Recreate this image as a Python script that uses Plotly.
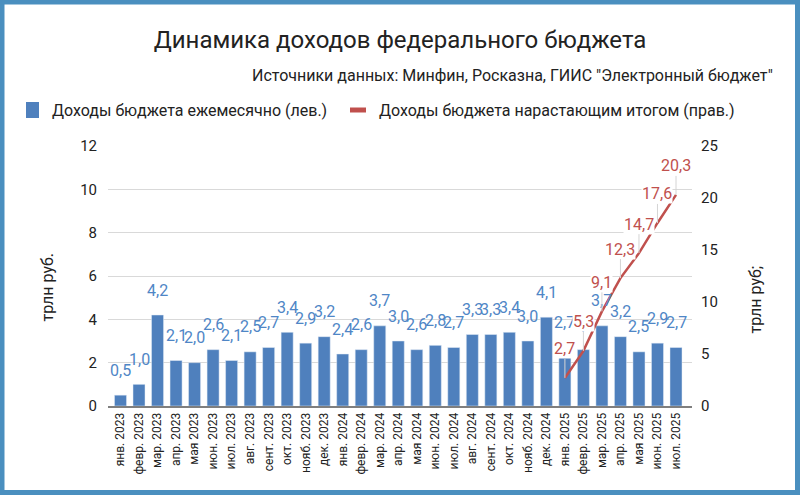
"""Динамика доходов федерального бюджета: помесячно (бары) и нарастающим итогом (линия)."""
import plotly.graph_objects as go

months = [
    "янв. 2023", "февр. 2023", "мар. 2023", "апр. 2023", "мая 2023", "июн. 2023",
    "июл. 2023", "авг. 2023", "сент. 2023", "окт. 2023", "нояб. 2023", "дек. 2023",
    "янв. 2024", "февр. 2024", "мар. 2024", "апр. 2024", "мая 2024", "июн. 2024",
    "июл. 2024", "авг. 2024", "сент. 2024", "окт. 2024", "нояб. 2024", "дек. 2024",
    "янв. 2025", "февр. 2025", "мар. 2025", "апр. 2025", "мая 2025", "июн. 2025",
    "июл. 2025",
]
monthly = [
    0.5, 1.0, 4.2, 2.1, 2.0, 2.6, 2.1, 2.5, 2.7, 3.4, 2.9, 3.2,
    2.4, 2.6, 3.7, 3.0, 2.6, 2.8, 2.7, 3.3, 3.3, 3.4, 3.0, 4.1,
    2.7, 2.6, 3.7, 3.2, 2.5, 2.9, 2.7,
]
cum_months = ["янв. 2025", "февр. 2025", "мар. 2025", "апр. 2025", "мая 2025", "июн. 2025", "июл. 2025"]
cumulative = [2.7, 5.3, 9.1, 12.3, 14.7, 17.6, 20.3]
series_names = ["Доходы бюджета ежемесячно (лев.)", "Доходы бюджета нарастающим итогом (прав.)"]

BLUE = "#4f80bd"
BLUE_TXT = "#4f86c6"
RED = "#c0504d"
TXT = "#222222"
FONT = "Roboto"

# plot area in pixels (figure is 800x495)
L, R, T, B = 108, 108, 146, 89
W, H = 800, 495
PW, PH = W - L - R, H - T - B


def px(x):
    return (x - L) / PW


def py(y):
    return (H - B - y) / PH


fig = go.Figure()

fig.add_trace(go.Bar(
    x=months, y=monthly, name=series_names[0],
    marker=dict(color=BLUE), yaxis="y", showlegend=False,
))
fig.add_trace(go.Scatter(
    x=cum_months, y=cumulative, name=series_names[1],
    mode="lines", line=dict(color=RED, width=2.5), yaxis="y2", showlegend=False,
))

# value labels over bars
for m, v in zip(months, monthly):
    fig.add_annotation(
        x=m, y=v, yref="y", yshift=25, showarrow=False,
        text=f"{v:.1f}".replace(".", ","),
        font=dict(family=FONT, size=16, color=BLUE_TXT),
    )

# cumulative labels with leader lines
for m, v in zip(cum_months, cumulative):
    fig.add_annotation(
        x=m, y=v, yref="y2", showarrow=True, ax=0, ay=-29,
        arrowhead=0, arrowwidth=1, arrowcolor="#d4d4d4",
        text=f"{v:.1f}".replace(".", ","), bgcolor="white", borderpad=0,
        font=dict(family=FONT, size=16, color=RED),
    )

# legend drawn by hand so it stays on one row like the original
fig.add_shape(type="rect", xref="paper", yref="paper",
              x0=px(26), x1=px(39), y0=py(118), y1=py(102),
              fillcolor=BLUE, line=dict(width=0))
fig.add_shape(type="rect", xref="paper", yref="paper",
              x0=px(350), x1=px(366), y0=py(112.5), y1=py(107.5),
              fillcolor=RED, line=dict(width=0))
for x0, name in zip([50, 377], series_names):
    fig.add_annotation(
        x=px(x0), y=py(110), xref="paper", yref="paper", xanchor="left", yanchor="middle",
        showarrow=False, text=name, font=dict(family=FONT, size=16, color=TXT),
    )

# subtitle and axis titles
fig.add_annotation(
    x=px(775), y=py(75), xref="paper", yref="paper", xanchor="right", yanchor="middle",
    showarrow=False, text='Источники данных: Минфин, Росказна, ГИИС "Электронный бюджет"',
    font=dict(family=FONT, size=16, color=TXT),
)
fig.add_annotation(
    x=px(35), y=py(287), xref="paper", yref="paper", textangle=-90,
    showarrow=False, text="трлн руб.", font=dict(family=FONT, size=16, color=TXT),
)
fig.add_annotation(
    x=px(766), y=py(300), xref="paper", yref="paper", textangle=-90,
    showarrow=False, text="трлн руб;", font=dict(family=FONT, size=16, color=TXT),
)

# blue frame around the whole picture
fig.add_shape(
    type="rect", xref="paper", yref="paper",
    x0=px(2), x1=px(797.5), y0=py(492.5), y1=py(2),
    line=dict(color="#4a8fbf", width=5), fillcolor="rgba(0,0,0,0)", layer="above",
)

fig.update_layout(
    width=W, height=H,
    margin=dict(l=L, r=R, t=T, b=B),
    paper_bgcolor="white", plot_bgcolor="white",
    separators=", ",
    font=dict(family=FONT, color=TXT),
    title=dict(
        text="Динамика доходов федерального бюджета",
        x=0.5, xanchor="center", y=1 - 40 / H, yanchor="middle",
        font=dict(family=FONT, size=24, color=TXT),
    ),
    bargap=0.35,
    xaxis=dict(
        type="category", tickangle=-90, tickfont=dict(family=FONT, size=12, color=TXT),
        showline=True, linecolor="#7f7f7f", linewidth=2, showgrid=False, ticks="",
    ),
    yaxis=dict(
        range=[0, 12], dtick=2, showgrid=True, gridcolor="#d9d9d9", gridwidth=1,
        zeroline=False, tickfont=dict(family=FONT, size=15, color=TXT),
        ticklabelstandoff=10,
    ),
    yaxis2=dict(
        range=[0, 25], dtick=5, overlaying="y", side="right", showgrid=False,
        zeroline=False, tickfont=dict(family=FONT, size=15, color=TXT),
        ticklabelstandoff=8,
    ),
)

# page body has a default 8px margin; drop it so the figure sits at the window corner
fig.write_html(
    "out.html",
    config={"displayModeBar": False},
    post_script="document.body.style.margin = '0';",
)
